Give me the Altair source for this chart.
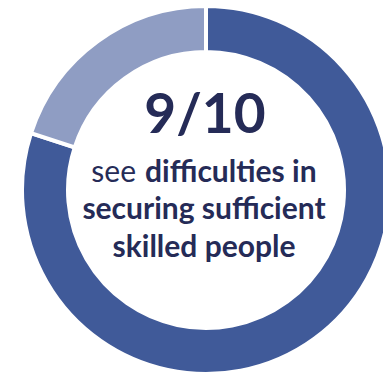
import altair as alt
import pandas as pd

categories = ["See difficulties", "Other"]
values = [80, 20]
order = [1, 2]
colors = ["#405A99", "#8F9DC3"]

headline = "9/10"
line2_normal = "see"
line2_bold = "difficulties in"
line3 = "securing sufficient"
line4 = "skilled people"

df = pd.DataFrame({"category": categories, "value": values, "order": order})

FONT = "Lato"
TXT = "#252B57"
CX, CY = 206, 190

donut = alt.Chart(df).mark_arc(
    outerRadius=184, innerRadius=138, stroke="white", strokeWidth=4
).encode(
    theta=alt.Theta("value:Q", stack=True),
    order=alt.Order("order:Q"),
    color=alt.Color("category:N", scale=alt.Scale(domain=categories, range=colors), legend=None),
    x=alt.value(CX),
    y=alt.value(CY),
)

def txt(text, x, y, size, weight, align="center"):
    return alt.Chart(pd.DataFrame({"t": [text]})).mark_text(
        font=FONT, fontSize=size, fontWeight=weight, color=TXT, align=align, baseline="alphabetic"
    ).encode(text="t:N", x=alt.value(x), y=alt.value(y))

layers = [
    donut,
    txt(headline, 205, 133, 55, "bold"),
    txt(line2_normal, 136, 182, 30, "normal", "right"),
    txt(line2_bold, 145, 182, 30, "bold", "left"),
    txt(line3, 204, 219, 30, "bold"),
    txt(line4, 204, 257, 30, "bold"),
]

chart = alt.layer(*layers).properties(
    width=383, height=373, padding=0, autosize=alt.AutoSizeParams(type="none"), background="white"
).configure_view(stroke=None)

chart.save("out.html", embed_options={"renderer": "svg", "actions": False})
